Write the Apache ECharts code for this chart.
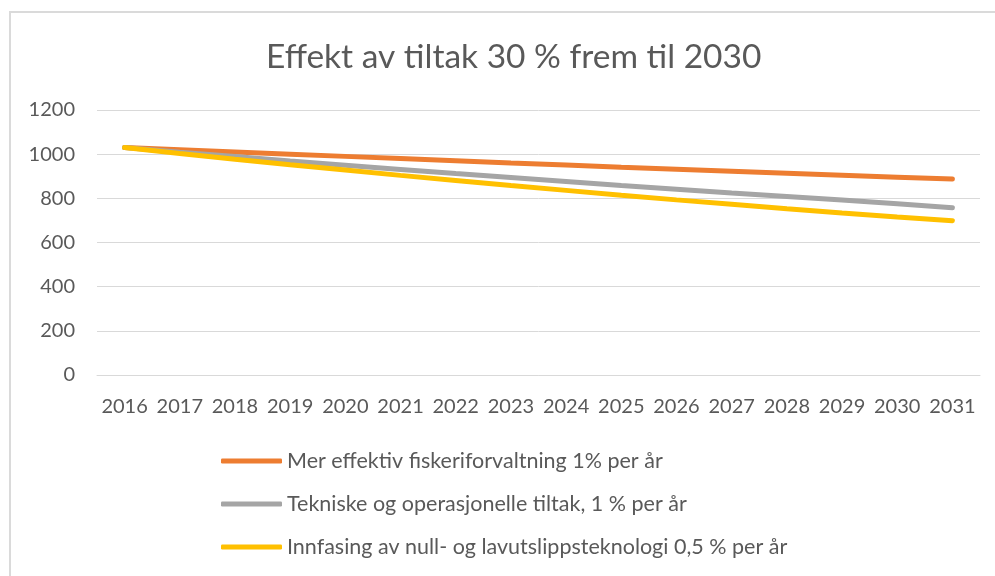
<!DOCTYPE html>
<html>
<head>
<meta charset="utf-8">
<script src="https://cdn.jsdelivr.net/npm/echarts@6/dist/echarts.min.js"></script>
<style>
  html, body { margin: 0; padding: 0; background: #fff; }
  .frame {
    position: absolute;
    left: 9px; top: 11px; width: 990px; height: 570px;
    border-left: 2px solid #dadada;
    border-top: 2px solid #dadada;
    box-sizing: border-box;
  }
  #chart { position: absolute; left: 0; top: 0; width: 995px; height: 576px; }
</style>
</head>
<body>
<div class="frame"></div>
<div id="chart"></div>
<script>
const years = ['2016', '2017', '2018', '2019', '2020', '2021', '2022', '2023', '2024', '2025', '2026', '2027', '2028', '2029', '2030', '2031']
const forvaltning = [1030, 1020, 1010, 1000, 990, 980, 970, 960, 951, 941, 932, 923, 914, 905, 896, 887]
const tekniske = [1030, 1009, 989, 969, 950, 931, 912, 894, 876, 858, 841, 824, 808, 792, 775, 757]
const innfasing = [1030, 1003, 977, 952, 928, 904, 881, 858, 836, 814, 793, 773, 753, 734, 716, 699]
const yTicks = [0, 200, 400, 600, 800, 1000, 1200]

const seriesNames = [
  'Mer effektiv fiskeriforvaltning 1% per år',
  'Tekniske og operasjonelle tiltak, 1 % per år',
  'Innfasing av null- og lavutslippsteknologi 0,5 % per år'
]
const colors = ['#ed7d31', '#a5a5a5', '#ffc000']
const font = 'Lato, "Open Sans", sans-serif'
const textColor = '#595959'

const mycharts = echarts.init(document.getElementById('chart'))

const mkLine = (name, data, color) => ({
  name,
  type: 'line',
  data,
  symbol: 'none',
  smooth: false,
  lineStyle: { color, width: 5, cap: 'round' },
  itemStyle: { color }
})

mycharts.setOption({
  animation: false,
  textStyle: { fontFamily: font },
  title: {
    text: 'Effekt av tiltak 30 % frem til 2030',
    left: 261,
    top: 35,
    textStyle: { color: textColor, fontSize: 33.5, fontWeight: 'normal', fontFamily: font }
  },
  grid: { left: 97, right: 15, top: 110, bottom: 201, containLabel: false },
  xAxis: {
    type: 'category',
    boundaryGap: true,
    data: years,
    axisLine: { lineStyle: { color: '#d9d9d9', width: 1 } },
    axisTick: { show: false },
    axisLabel: { color: textColor, fontSize: 20, margin: 22, interval: 0, fontFamily: font }
  },
  yAxis: {
    type: 'value',
    min: yTicks[0],
    max: yTicks[yTicks.length - 1],
    interval: 200,
    axisLine: { show: false },
    axisTick: { show: false },
    splitLine: { lineStyle: { color: '#d9d9d9', width: 1 } },
    axisLabel: {
      color: textColor, fontSize: 20, margin: 22, fontFamily: font,
      formatter: v => String(v)
    }
  },
  legend: {
    orient: 'vertical',
    left: 216,
    top: 444,
    itemGap: 19,
    itemWidth: 61,
    itemHeight: 5,
    icon: 'roundRect',
    textStyle: { color: textColor, fontSize: 21.5, lineHeight: 24, fontFamily: font },
    data: seriesNames
  },
  series: [
    mkLine(seriesNames[0], forvaltning, colors[0]),
    mkLine(seriesNames[1], tekniske, colors[1]),
    mkLine(seriesNames[2], innfasing, colors[2])
  ]
})
</script>
</body>
</html>
